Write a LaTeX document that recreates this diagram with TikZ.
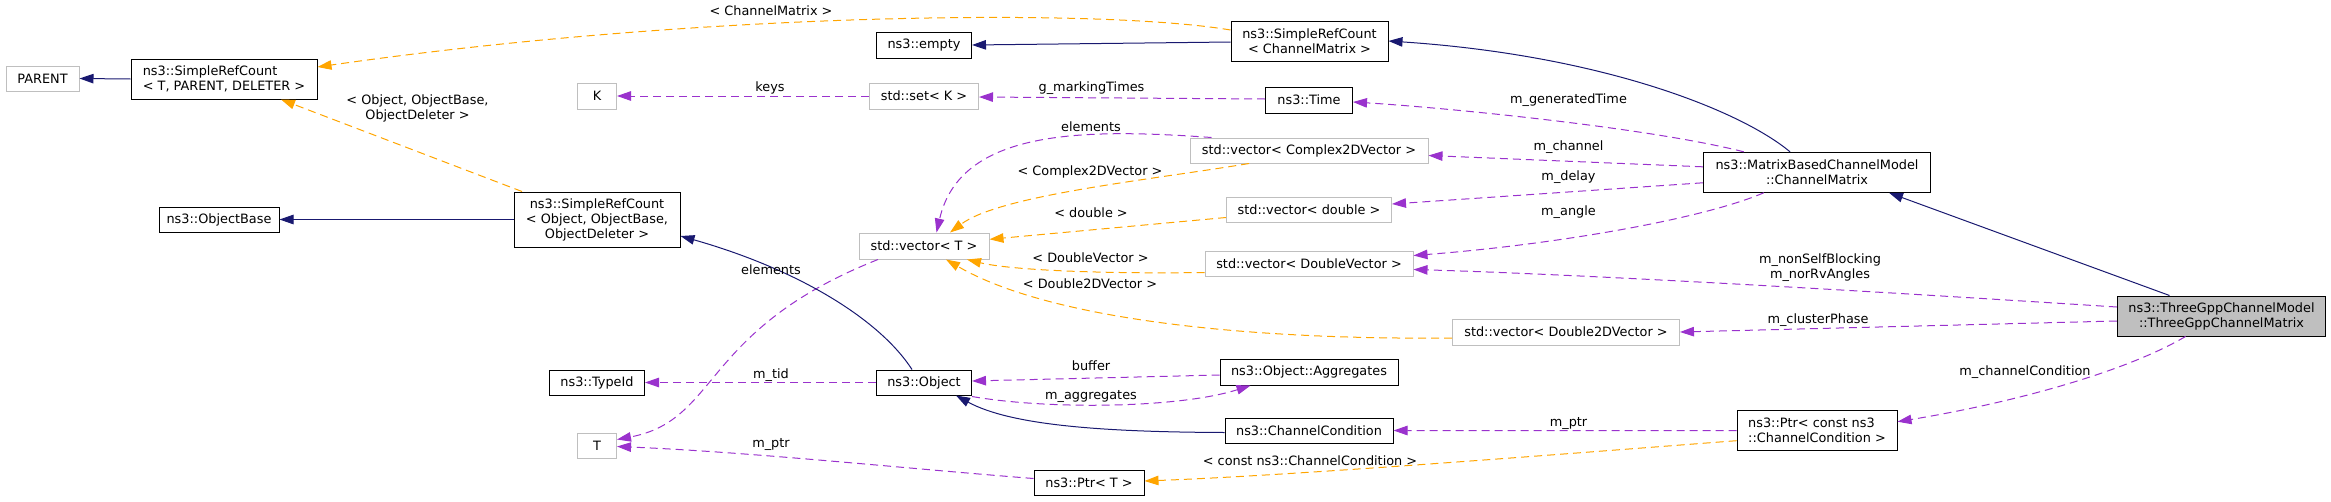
\documentclass[tikz,border=0pt]{standalone}
\usepackage{fontspec}
\setmainfont{DejaVu Sans}
\usetikzlibrary{arrows.meta,calc}
\definecolor{navy}{HTML}{191970}
\definecolor{dorange}{HTML}{FFA500}
\definecolor{dpurple}{HTML}{9A32CD}
\definecolor{gborder}{HTML}{BFBFBF}
\definecolor{gfill}{HTML}{BFBFBF}
\begin{document}
\begin{tikzpicture}[x=1pt,y=-1pt,
  every node/.style={font=\fontsize{12.85}{15}\selectfont},
  bx/.style={draw=black, line width=1pt, inner sep=0pt, align=center},
  gbx/.style={draw=gborder, line width=1pt, inner sep=0pt, align=center},
  lbl/.style={inner sep=0pt, text height=9.5pt, text depth=2.5pt},
  lbl2/.style={inner sep=0pt, align=center},
  tip/.style={-{Triangle[length=14pt,width=9.5pt]}},
  inh/.style={tip, draw=navy, line width=1pt},
  tpl/.style={tip, draw=dorange, line width=1pt, dash pattern=on 8pt off 5pt},
  use/.style={tip, draw=dpurple, line width=1pt, dash pattern=on 8pt off 5pt}
]
\useasboundingbox (0,0) rectangle (2331,501);

% nodes
\node[gbx,minimum width=73pt,minimum height=25pt] (parent) at (42.5,78.5) {PARENT};
\node[bx,minimum width=186pt,minimum height=40pt,align=left] (srcT) at (224,79) {ns3::SimpleRefCount\\< T, PARENT, DELETER >};
\node[bx,minimum width=120pt,minimum height=25pt] (objbase) at (219,219.5) {ns3::ObjectBase};
\node[bx,minimum width=166pt,minimum height=55pt] (srcO) at (597,219.5) {ns3::SimpleRefCount\\< Object, ObjectBase,\\ObjectDeleter >};
\node[gbx,minimum width=39pt,minimum height=26pt] (K) at (597,96) {K};
\node[gbx,minimum width=109pt,minimum height=26pt] (setK) at (924,96) {std::set< K >};
\node[bx,minimum width=95pt,minimum height=26pt] (empty) at (924,45) {ns3::empty};
\node[gbx,minimum width=130pt,minimum height=26pt] (vecT) at (924,246) {std::vector< T >};
\node[bx,minimum width=95pt,minimum height=25pt] (typeid) at (597,382.5) {ns3::TypeId};
\node[bx,minimum width=95pt,minimum height=25pt] (object) at (924,382.5) {ns3::Object};
\node[gbx,minimum width=39pt,minimum height=25pt] (T) at (597,445.5) {T};
\node[bx,minimum width=110pt,minimum height=25pt] (ptrT) at (1089,482.5) {ns3::Ptr< T >};
\node[bx,minimum width=157pt,minimum height=40pt] (srcCM) at (1309.5,41) {ns3::SimpleRefCount\\< ChannelMatrix >};
\node[bx,minimum width=87pt,minimum height=26pt] (time) at (1309,100) {ns3::Time};
\node[gbx,minimum width=238pt,minimum height=25pt] (vC2D) at (1309,150.5) {std::vector< Complex2DVector >};
\node[gbx,minimum width=165pt,minimum height=25pt] (vD) at (1309,209.5) {std::vector< double >};
\node[gbx,minimum width=208pt,minimum height=25pt] (vDV) at (1309,263.5) {std::vector< DoubleVector >};
\node[gbx,minimum width=227pt,minimum height=26pt] (vD2D) at (1566,332) {std::vector< Double2DVector >};
\node[bx,minimum width=178pt,minimum height=26pt] (aggr) at (1309,372) {ns3::Object::Aggregates};
\node[bx,minimum width=168pt,minimum height=25pt] (cc) at (1309,430.5) {ns3::ChannelCondition};
\node[bx,minimum width=227.5pt,minimum height=40pt] (mbcm) at (1817,172.3) {ns3::MatrixBasedChannelModel\\::ChannelMatrix};
\node[bx,fill=gfill,minimum width=208.5pt,minimum height=40pt] (tgpp) at (2221.5,316) {ns3::ThreeGppChannelModel\\::ThreeGppChannelMatrix};
\node[bx,minimum width=160pt,minimum height=40pt,align=left] (ptrCC) at (1817,430.7) {ns3::Ptr< const ns3\\::ChannelCondition >};

% edges
\draw[inh] (srcT.west) -- (parent.east);
\draw[tpl] ($(srcCM.west)+(0,-11)$) .. controls (1100,8) and (700,12) .. ($(srcT.east)+(0,-12)$);
\draw[inh] ($(srcCM.west)+(0,1)$) -- (empty.east);
\draw[inh] ($(mbcm.north)+(-27,0)$) .. controls (1740,110) and (1600,55) .. (srcCM.east);
\draw[inh] ($(tgpp.north)+(-52,0)$) -- ($(mbcm.south)+(72,0)$);
\draw[use] (setK.west) -- (K.east);
\draw[use] ($(time.west)+(0,-1)$) -- ($(setK.east)+(0,1)$);
\draw[use] ($(mbcm.north west)+(41,0)$) .. controls (1650,128) and (1450,108) .. ($(time.east)+(0,2)$);
\draw[use] ($(mbcm.west)+(0,-5.5)$) -- ($(vC2D.east)+(0,5)$);
\draw[use] ($(mbcm.west)+(0,10.5)$) -- ($(vD.east)+(0,-5.5)$);
\draw[use] ($(mbcm.south west)+(61,0)$) .. controls (1700,220) and (1550,245) .. ($(vDV.east)+(0,-8)$);
\draw[use] ($(tgpp.west)+(0,-9)$) .. controls (1900,293) and (1600,275) .. ($(vDV.east)+(0,6)$);
\draw[use] ($(tgpp.west)+(0,5)$) -- (vD2D.east);
\draw[use] ($(tgpp.south)+(-36,0)$) .. controls (2120,375) and (2000,405) .. ($(ptrCC.east)+(0,-9)$);
\draw[use] (ptrCC.west) -- (cc.east);
\draw[tpl] ($(ptrCC.west)+(0,10)$) .. controls (1550,455) and (1300,475) .. ($(ptrT.east)+(0,-1.5)$);
\draw[use] ($(ptrT.west)+(0,-4)$) .. controls (900,468) and (750,452) .. ($(T.east)+(0,1)$);
\draw[use] ($(vecT.south)+(-46,0)$) .. controls (700,330) and (720,420) .. ($(T.east)+(0,-6)$);
\draw[use] (object.west) -- (typeid.east);
\draw[use] ($(aggr.west)+(0,3)$) -- ($(object.east)+(0,-1.5)$);
\draw[use] ($(object.south east)+(0,1)$) .. controls (1050,410) and (1180,408) .. ($(aggr.south west)+(31,0)$);
\draw[inh] ($(cc.west)+(0,2)$) .. controls (1100,432) and (1010,425) .. ($(object.south)+(32,0)$);
\draw[inh] ($(object.north)+(-12,0)$) .. controls (880,320) and (800,270) .. ($(srcO.east)+(0,16.5)$);
\draw[inh] (srcO.west) -- (objbase.east);
\draw[tpl] ($(srcO.north)+(-75,0)$) -- ($(srcT.south)+(57,0)$);
\draw[tpl] ($(vC2D.south)+(-60,0)$) .. controls (1150,180) and (1000,195) .. ($(vecT.north)+(26,0)$);
\draw[use] ($(vC2D.north west)+(22,0)$) .. controls (1080,128) and (960,130) .. ($(vecT.north)+(12.5,0)$);
\draw[tpl] ($(vD.west)+(0,8)$) -- ($(vecT.east)+(0,-6.7)$);
\draw[tpl] ($(vDV.west)+(0,9)$) .. controls (1100,274) and (1010,270) .. ($(vecT.south)+(43,0)$);
\draw[tpl] ($(vD2D.west)+(0,6)$) .. controls (1250,340) and (1050,320) .. ($(vecT.south)+(22,0)$);

% labels
\node[lbl] (l1) at (771,12) {< ChannelMatrix >};
\node[lbl2] (l2) at (417.5,108) {< Object, ObjectBase,\\ObjectDeleter >};
\node[lbl] (l3) at (770,88) {keys};
\node[lbl] (l4) at (1091.5,88) {g\_markingTimes};
\node[lbl] (l5) at (1091,128) {elements};
\node[lbl] (l6) at (1090,172) {< Complex2DVector >};
\node[lbl] (l7) at (1091,214) {< double >};
\node[lbl] (l8) at (1090.5,259) {< DoubleVector >};
\node[lbl] (l9) at (1090,285) {< Double2DVector >};
\node[lbl] (l10) at (771,271) {elements};
\node[lbl] (l11) at (771,375) {m\_tid};
\node[lbl] (l12) at (771,444) {m\_ptr};
\node[lbl] (l13) at (1091,367) {buffer};
\node[lbl] (l14) at (1091,396) {m\_aggregates};
\node[lbl] (l15) at (1568.5,100) {m\_generatedTime};
\node[lbl] (l16) at (1568.5,147) {m\_channel};
\node[lbl] (l17) at (1568.5,177) {m\_delay};
\node[lbl] (l18) at (1568.5,212) {m\_angle};
\node[lbl2] (l19) at (1820,267.5) {m\_nonSelfBlocking\\m\_norRvAngles};
\node[lbl] (l20) at (1818,320) {m\_clusterPhase};
\node[lbl] (l21) at (1568.5,423) {m\_ptr};
\node[lbl] (l22) at (1310,462) {< const ns3::ChannelCondition >};
\node[lbl] (l23) at (2025,372) {m\_channelCondition};
\end{tikzpicture}
\end{document}
